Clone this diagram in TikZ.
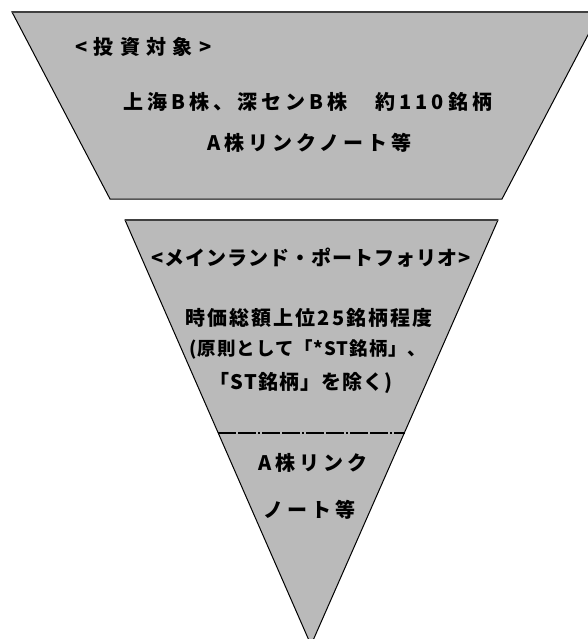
\documentclass[tikz,border=0pt]{standalone}
\usepackage{fontspec}
\newfontfamily\jpfont{Noto Sans CJK JP}[LetterSpace=20]
\newfontfamily\jpwide{Noto Sans CJK JP}[LetterSpace=32]
\newfontfamily\jpmid{Noto Sans CJK JP}[LetterSpace=10]
\newfontfamily\jptight{Noto Sans CJK JP}[LetterSpace=5]
\usetikzlibrary{calc, positioning}

\begin{document}
\begin{tikzpicture}[x=1pt,y=-1pt,every node/.style={font=\jpfont\bfseries\fontsize{20}{24}\selectfont, inner sep=0pt},
	tight/.style={font=\jptight\bfseries\fontsize{20}{24}\selectfont},
	mid/.style={font=\jpmid\bfseries\fontsize{20}{24}\selectfont},
	wide/.style={font=\jpwide\bfseries\fontsize{20}{24}\selectfont}]

	\clip (0,0) rectangle (588,639);

	\coordinate (TL) at (12,12);
	\coordinate (TR) at (600,12);
	\coordinate (BL) at (110,199);
	\coordinate (BR) at (502,199);
	\coordinate (ML) at (125,220);
	\coordinate (MR) at (498,220);
	\coordinate (O) at (311,645);
	\coordinate (DL) at ($ (ML)!.5!(O) $);
	\coordinate (DR) at ($ (MR)!.5!(O) $);

	\filldraw[fill=black!27, draw=black, line width=1pt] (TL) -- (TR) -- (BR) -- (BL) -- cycle;
	\draw[black!75, line width=2pt] (TL) -- (TR);
	\node[wide, anchor=west] (Target) at (75,47) {<投資対象>};
	\node (Shares) at (308,102) {上海B株、深センB株　約110銘柄};
	\node (TopNote) at (309,143) {A株リンクノート等};

	\filldraw[fill=black!27, draw=black, line width=1pt] (ML) -- (MR) -- (O) -- cycle;
	\draw[black!75, line width=2pt] (ML) -- (MR);
	\draw[line width=2pt, dash pattern=on 18pt off 2pt on 18pt off 2pt on 2pt off 2pt] (DL) -- (DR);
	\node[tight] (Main) at (311,258) {<メインランド・ポートフォリオ>};
	\node[mid] (Cap) at (309,318) {時価総額上位25銘柄程度};
	\node[font=\jptight\bfseries\fontsize{18.5}{22}\selectfont] (Rule) at (308,349) {(原則として「*ST銘柄」、};
	\node[tight] (RuleEnd) at (301,383) {「ST銘柄」を除く)};
	\node (Link) at (313,463) {A株リンク};
	\node (Note) at (309,510) {ノート等};

\end{tikzpicture}
\end{document}
